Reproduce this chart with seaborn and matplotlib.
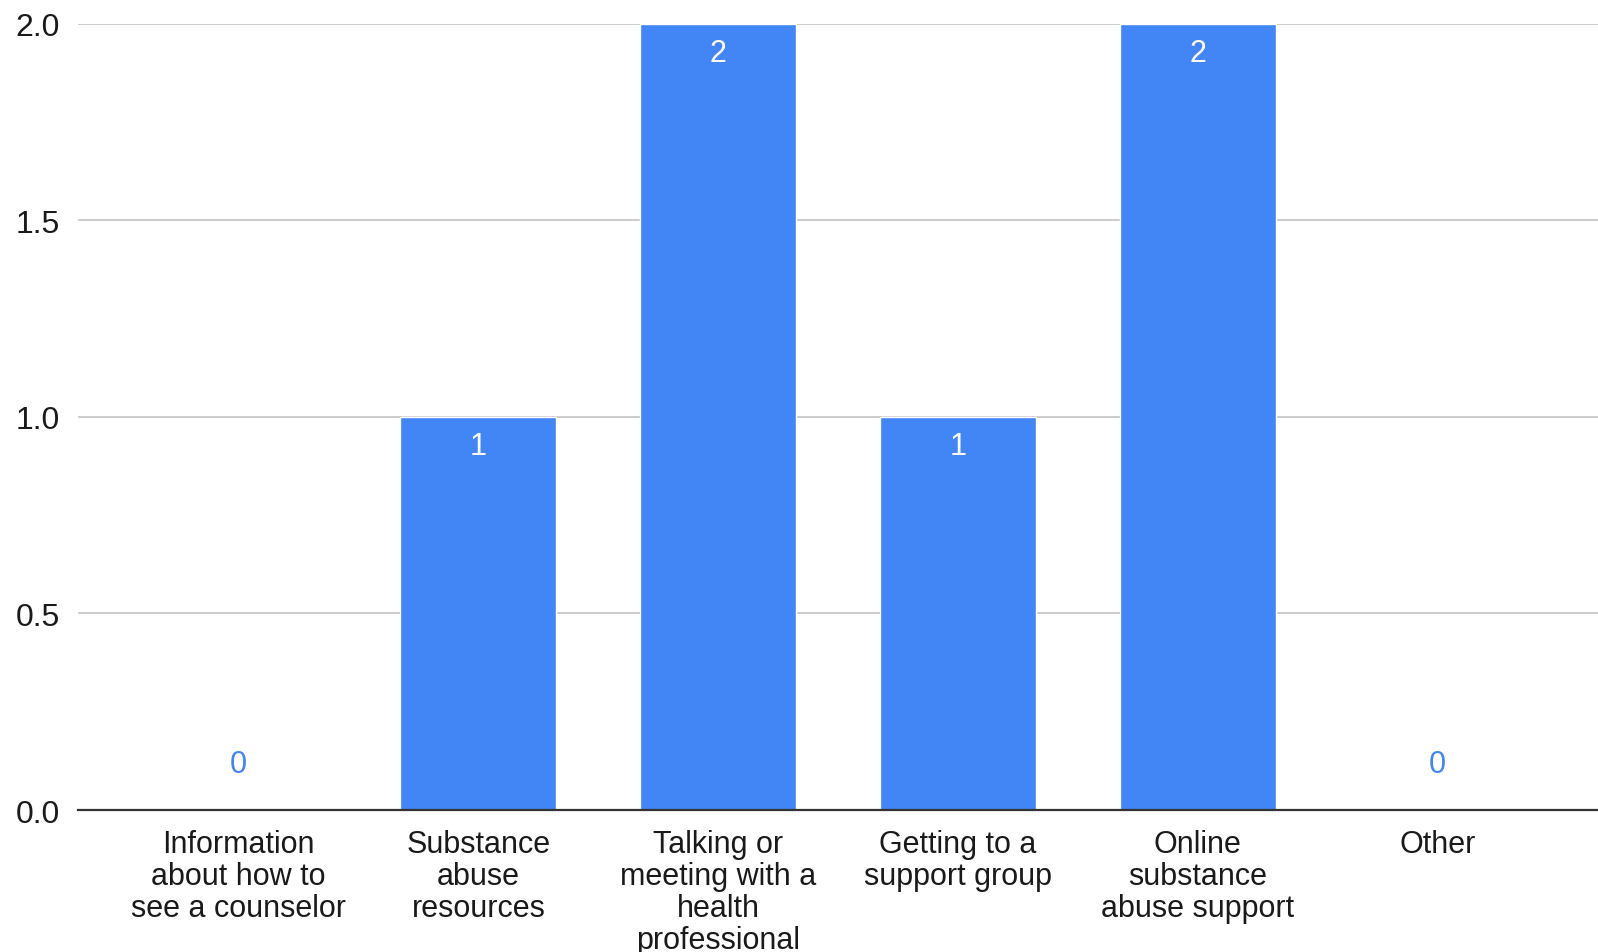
import numpy as np
import pandas as pd
import matplotlib
matplotlib.use("Agg")
import matplotlib.pyplot as plt
import seaborn as sns

categories = ["Information\nabout how to\nsee a counselor",
              "Substance\nabuse\nresources",
              "Talking or\nmeeting with a\nhealth\nprofessional",
              "Getting to a\nsupport group",
              "Online\nsubstance\nabuse support",
              "Other"]
counts = [0, 1, 2, 1, 2, 0]
y_ticks = [0.0, 0.5, 1.0, 1.5, 2.0]

bar_color = "#4285F4"

sns.set_style("white")
plt.rcParams["font.family"] = ["Liberation Sans", "DejaVu Sans"]

df = pd.DataFrame({"category": categories, "count": counts})

fig = plt.figure(figsize=(15.98, 9.53), dpi=100)
ax = fig.add_axes([0.0488, 0.149, 0.9512, 0.8248])

sns.barplot(data=df, x="category", y="count", color=bar_color, saturation=1,
            width=0.65, ax=ax, zorder=3)

ax.set_xlim(-0.67, len(categories) - 0.33)
ax.set_ylim(0, 2.0)
ax.set_yticks(y_ticks)
ax.set_yticklabels([f"{v:.1f}" for v in y_ticks], fontsize=23, color="#1a1a1a")
ax.tick_params(axis="y", length=0, pad=13)
ax.tick_params(axis="x", length=0, pad=14)
for lab in ax.get_xticklabels():
    lab.set_fontsize(22)
    lab.set_color("#1a1a1a")
    lab.set_linespacing(1.08)
    lab.set_verticalalignment("top")

ax.set_xlabel("")
ax.set_ylabel("")
for s in ["top", "right", "left"]:
    ax.spines[s].set_visible(False)
ax.spines["bottom"].set_color("#333333")
ax.spines["bottom"].set_linewidth(1.6)
ax.spines["bottom"].set_zorder(4)

ax.yaxis.grid(True, color="#cccccc", linewidth=1.4, zorder=0)
ax.set_axisbelow(True)

for i, v in enumerate(counts):
    if v > 0:
        ax.annotate(str(v), (i, v), xytext=(0, -21), textcoords="offset points",
                    ha="center", va="center", color="white", fontsize=22, zorder=5)
    else:
        ax.annotate(str(v), (i, v), xytext=(0, 33), textcoords="offset points",
                    ha="center", va="center", color=bar_color, fontsize=22, zorder=5)

fig.savefig("out.png", dpi=100)
